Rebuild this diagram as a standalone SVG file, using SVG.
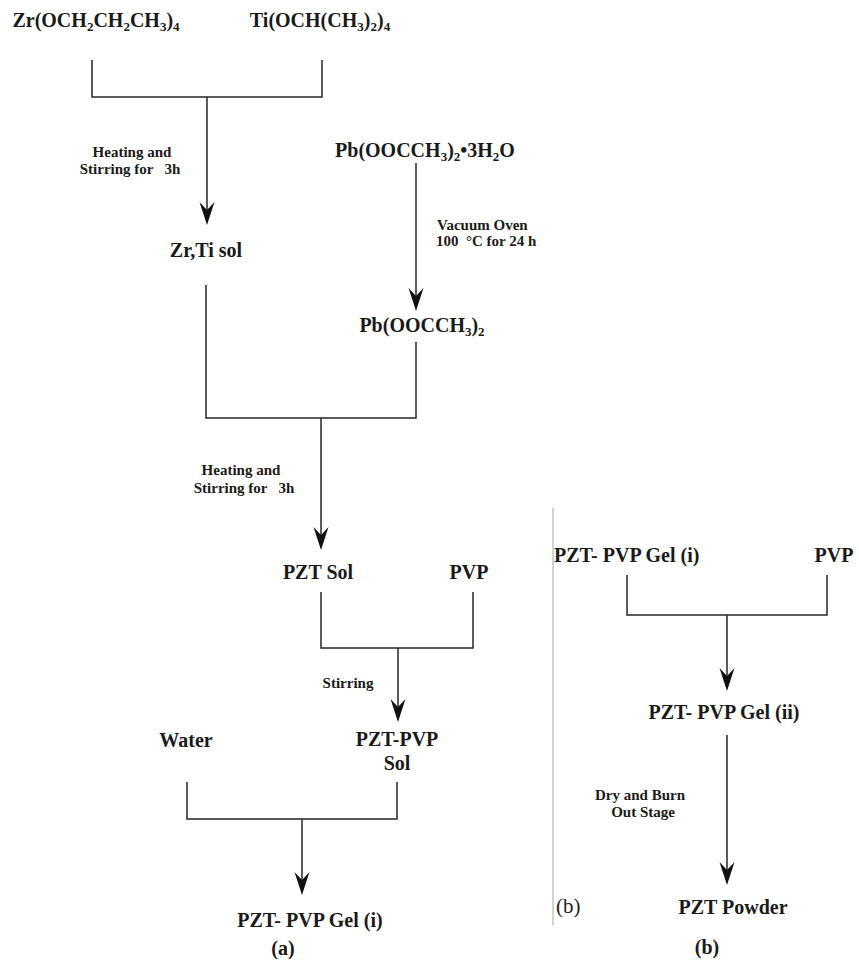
<svg xmlns="http://www.w3.org/2000/svg" width="859" height="965" viewBox="0 0 859 965">
<style>
.t{font-family:"Liberation Serif","Times New Roman",serif;font-weight:bold;fill:#1a1a1a}
.n{font-size:20px}
.l{font-size:15px}
.s{font-size:13px}
.ln{fill:none;stroke:#262626;stroke-width:1.5}
.ah{fill:#111}
</style>
<defs>
<path id="arr" d="M0,0 L-7.5,-23 L0,-15 L7.5,-23 Z"/>
</defs>
<rect width="859" height="965" fill="#fff"/>

<g id="connectors">
  <path class="ln" d="M92,60 V97 H322 V60"/>
  <path class="ln" d="M207,97 V220"/>
  <use href="#arr" class="ah" x="207" y="225"/>
  <path class="ln" d="M416,163 V305"/>
  <use href="#arr" class="ah" x="416" y="311"/>
  <path class="ln" d="M206,285 V418 H416 V342"/>
  <path class="ln" d="M321,418 V545"/>
  <use href="#arr" class="ah" x="321" y="550"/>
  <path class="ln" d="M321,592 V648 H473 V592"/>
  <path class="ln" d="M398,648 V717"/>
  <use href="#arr" class="ah" x="398" y="722"/>
  <path class="ln" d="M187,782 V819 H397 V782"/>
  <path class="ln" d="M302,819 V890"/>
  <use href="#arr" class="ah" x="302" y="895"/>
  <path d="M553,508 V925" fill="none" stroke="#b5b5b5" stroke-width="1.2"/>
  <path class="ln" d="M627,575 V615 H827 V575"/>
  <path class="ln" d="M727,615 V686"/>
  <use href="#arr" class="ah" x="727" y="691"/>
  <path class="ln" d="M727,735 V880"/>
  <use href="#arr" class="ah" x="727" y="885"/>
</g>

<g id="zr-precursor"><text class="t n" x="96" y="27" text-anchor="middle">Zr(OCH<tspan class="s" dy="4">2</tspan><tspan dy="-4">CH</tspan><tspan class="s" dy="4">2</tspan><tspan dy="-4">CH</tspan><tspan class="s" dy="4">3</tspan><tspan dy="-4">)</tspan><tspan class="s" dy="4">4</tspan></text></g>
<g id="ti-precursor"><text class="t n" x="320" y="27" text-anchor="middle">Ti(OCH(CH<tspan class="s" dy="4">3</tspan><tspan dy="-4">)</tspan><tspan class="s" dy="4">2</tspan><tspan dy="-4">)</tspan><tspan class="s" dy="4">4</tspan></text></g>
<g id="label-heat1"><text class="t l" x="132" y="157" text-anchor="middle">Heating and</text><text class="t l" x="130" y="174" text-anchor="middle" xml:space="preserve">Stirring for   3h</text></g>
<g id="pb-hydrate"><text class="t n" x="425" y="157" text-anchor="middle">Pb(OOCCH<tspan class="s" dy="4">3</tspan><tspan dy="-4">)</tspan><tspan class="s" dy="4">2</tspan><tspan dy="-4">•3H</tspan><tspan class="s" dy="4">2</tspan><tspan dy="-4">O</tspan></text></g>
<g id="label-vacuum"><text class="t l" x="437" y="230">Vacuum Oven</text><text class="t l" x="436" y="246" xml:space="preserve">100  °C for 24 h</text></g>
<g id="zrti-sol"><text class="t n" x="206" y="257" text-anchor="middle">Zr,Ti sol</text></g>
<g id="pb-acetate"><text class="t n" x="422" y="332" text-anchor="middle">Pb(OOCCH<tspan class="s" dy="4">3</tspan><tspan dy="-4">)</tspan><tspan class="s" dy="4">2</tspan></text></g>
<g id="label-heat2"><text class="t l" x="241" y="475" text-anchor="middle">Heating and</text><text class="t l" x="244" y="493" text-anchor="middle" xml:space="preserve">Stirring for   3h</text></g>
<g id="pzt-sol"><text class="t n" x="318" y="579" text-anchor="middle">PZT Sol</text></g>
<g id="pvp-a"><text class="t n" x="469" y="579" text-anchor="middle">PVP</text></g>
<g id="label-stir"><text class="t l" x="348" y="688" text-anchor="middle">Stirring</text></g>
<g id="water"><text class="t n" x="186" y="747" text-anchor="middle">Water</text></g>
<g id="pzt-pvp-sol"><text class="t n" x="397" y="746" text-anchor="middle">PZT-PVP</text><text class="t n" x="397" y="770" text-anchor="middle">Sol</text></g>
<g id="gel-i-a"><text class="t n" x="310" y="927" text-anchor="middle">PZT- PVP Gel (i)</text></g>
<g id="caption-a"><text class="t n" x="283" y="955" text-anchor="middle">(a)</text></g>

<g id="gel-i-b"><text class="t n" x="554" y="562">PZT- PVP Gel (i)</text></g>
<g id="pvp-b"><text class="t n" x="834" y="562" text-anchor="middle">PVP</text></g>
<g id="gel-ii"><text class="t n" x="724" y="719" text-anchor="middle">PZT- PVP Gel (ii)</text></g>
<g id="label-dry"><text class="t l" x="640" y="800" text-anchor="middle">Dry and Burn</text><text class="t l" x="643" y="817" text-anchor="middle">Out Stage</text></g>
<g id="pzt-powder"><text class="t n" x="733" y="914" text-anchor="middle">PZT Powder</text></g>
<g id="panel-b-tag"><text x="556" y="913" font-family="Liberation Serif, serif" font-size="21" fill="#222">(b)</text></g>
<g id="caption-b"><text class="t n" x="707" y="954" text-anchor="middle">(b)</text></g>
</svg>
